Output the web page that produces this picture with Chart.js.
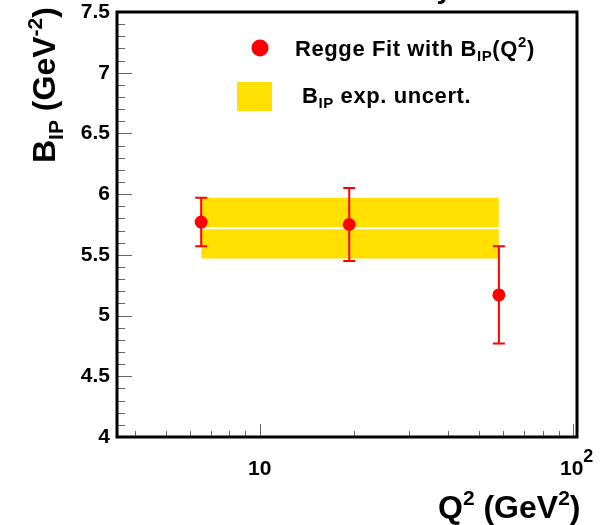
<!DOCTYPE html>
<html>
<head>
<meta charset="utf-8">
<script src="https://cdn.jsdelivr.net/npm/chart.js@4.4.0/dist/chart.umd.min.js"></script>
<style>
  html, body { margin: 0; padding: 0; background: #fff; }
  canvas { display: block; }
</style>
</head>
<body>
<canvas id="bChart" width="612" height="525"></canvas>
<script>
// measured points: Q^2, B_IP and its error
const q2 = [6.5, 19.3, 58];
const bIP = [5.77, 5.75, 5.17];
const bErr = [0.2, 0.3, 0.4];

// experimental uncertainty band on B_IP
const bandQ2 = [6.5, 58];
const bandLow = [5.47, 5.47];
const bandHigh = [5.97, 5.97];
const bandMid = [5.72, 5.72];

// axis ticks
const yMajor = [4, 4.5, 5, 5.5, 6, 6.5, 7, 7.5];
const yMinor = [];
for (let v = 40; v <= 75; v++) if (v % 5 !== 0) yMinor.push(v / 10);
const xMajor = [10, 100];
const xMinor = [4, 5, 6, 7, 8, 9, 20, 30, 40, 50, 60, 70, 80, 90];

const FONT = '"Liberation Sans", Arial, Helvetica, sans-serif';

function pts(xs, ys) {
  return xs.map((x, i) => ({ x: x, y: ys[i] }));
}

// draw text made of pieces [text, size, dy]
function drawRich(ctx, parts, x, y) {
  let cx = x;
  parts.forEach(([t, s, dy]) => {
    ctx.font = `bold ${s}px ${FONT}`;
    ctx.fillText(t, cx, y + dy);
    cx += ctx.measureText(t).width;
  });
}

const errorBars = {
  id: 'errorBars',
  afterDatasetsDraw(chart) {
    const ctx = chart.ctx;
    const xs = chart.scales.x, ys = chart.scales.y;
    ctx.save();
    ctx.strokeStyle = '#ff0000';
    ctx.lineWidth = 2;
    q2.forEach((q, i) => {
      const px = xs.getPixelForValue(q);
      const top = ys.getPixelForValue(bIP[i] + bErr[i]);
      const bot = ys.getPixelForValue(bIP[i] - bErr[i]);
      ctx.beginPath();
      ctx.moveTo(px, top); ctx.lineTo(px, bot);
      ctx.moveTo(px - 6, top); ctx.lineTo(px + 6, top);
      ctx.moveTo(px - 6, bot); ctx.lineTo(px + 6, bot);
      ctx.stroke();
    });
    ctx.restore();
  }
};

const decorations = {
  id: 'decorations',
  afterDraw(chart) {
    const ctx = chart.ctx;
    const a = chart.chartArea;
    const xs = chart.scales.x, ys = chart.scales.y;
    ctx.save();

    // tick marks inside the frame
    ctx.strokeStyle = '#666';
    ctx.lineWidth = 1;
    ctx.beginPath();
    yMajor.forEach(v => { const p = Math.round(ys.getPixelForValue(v)) + 0.5; ctx.moveTo(a.left, p); ctx.lineTo(a.left + 15, p); });
    yMinor.forEach(v => { const p = Math.round(ys.getPixelForValue(v)) + 0.5; ctx.moveTo(a.left, p); ctx.lineTo(a.left + 8, p); });
    xMajor.forEach(v => { const p = Math.round(xs.getPixelForValue(v)) + 0.5; ctx.moveTo(p, a.bottom); ctx.lineTo(p, a.bottom - 13); });
    xMinor.forEach(v => { const p = Math.round(xs.getPixelForValue(v)) + 0.5; ctx.moveTo(p, a.bottom); ctx.lineTo(p, a.bottom - 6); });
    ctx.stroke();

    // frame
    ctx.strokeStyle = '#000';
    ctx.lineWidth = 3;
    ctx.strokeRect(a.left, a.top, a.right - a.left, a.bottom - a.top);

    ctx.fillStyle = '#000';
    ctx.textBaseline = 'alphabetic';

    // x tick labels
    ctx.textAlign = 'center';
    ctx.font = `bold 21px ${FONT}`;
    ctx.fillText('10', xs.getPixelForValue(10), 475);
    ctx.textAlign = 'left';
    const p100 = xs.getPixelForValue(100);
    drawRich(ctx, [['10', 21, 0], ['2', 18, -13]], p100 - 13, 475);

    // axis titles
    drawRich(ctx, [['Q', 32, 0], ['2', 21, -13], [' (GeV', 32, 0], ['2', 21, -13], [')', 32, 0]], 438, 518);
    ctx.save();
    ctx.translate(55, 163);
    ctx.rotate(-Math.PI / 2);
    drawRich(ctx, [['B', 32, 0], ['IP', 21, 8], [' (GeV', 32, 0], ['-2', 21, -13], [')', 32, 0]], 0, 0);
    ctx.restore();

    // clipped title at the top
    ctx.textAlign = 'right';
    ctx.font = `bold 28px ${FONT}`;
    ctx.fillText('H1 Preliminary', 452, -2);
    ctx.textAlign = 'left';

    // legend
    ctx.fillStyle = '#ff0000';
    ctx.beginPath();
    ctx.arc(260, 48, 8.5, 0, Math.PI * 2);
    ctx.fill();
    ctx.fillStyle = '#ffe000';
    ctx.fillRect(237, 82, 35, 29);
    ctx.fillStyle = '#000';
    ctx.letterSpacing = '0.6px';
    drawRich(ctx, [['Regge Fit with B', 22, 0], ['IP', 15, 5], ['(Q', 22, 0], ['2', 15, -9], [')', 22, 0]], 295, 56);
    drawRich(ctx, [['B', 22, 0], ['IP', 15, 5], [' exp. uncert.', 22, 0]], 302, 103);
    ctx.letterSpacing = '0px';

    ctx.restore();
  }
};

const ctx = document.getElementById('bChart').getContext('2d');
new Chart(ctx, {
  type: 'scatter',
  data: {
    datasets: [
      {
        label: 'Regge Fit with B_IP(Q^2)',
        data: pts(q2, bIP),
        backgroundColor: '#ff0000',
        borderColor: '#ff0000',
        borderWidth: 0,
        pointRadius: 6.5,
        pointHoverRadius: 6.5,
        order: 0,
      },
      {
        label: 'band high',
        type: 'line',
        data: pts(bandQ2, bandHigh),
        borderWidth: 0,
        pointRadius: 0,
        backgroundColor: '#ffe000',
        fill: '+1',
        order: 3,
      },
      {
        label: 'band low',
        type: 'line',
        data: pts(bandQ2, bandLow),
        borderWidth: 0,
        pointRadius: 0,
        fill: false,
        order: 3,
      },
      {
        label: 'band center',
        type: 'line',
        data: pts(bandQ2, bandMid),
        borderColor: '#ffffff',
        borderWidth: 2,
        pointRadius: 0,
        fill: false,
        order: 2,
      },
    ],
  },
  options: {
    responsive: false,
    animation: false,
    layout: { padding: { top: 12, right: 35, left: 0, bottom: 0 } },
    plugins: {
      legend: { display: false },
      tooltip: { enabled: false },
    },
    scales: {
      x: {
        type: 'logarithmic',
        min: 3.5,
        max: 103,
        grid: { display: false, drawTicks: false },
        border: { display: false },
        ticks: { display: false },
        afterFit: (s) => { s.height = 88; s.paddingLeft = 0; s.paddingRight = 0; },
      },
      y: {
        min: 4,
        max: 7.5,
        grid: { display: false, drawTicks: false },
        border: { display: false },
        ticks: {
          stepSize: 0.5,
          padding: 7,
          color: '#000',
          font: { family: FONT, size: 21, weight: 'bold' },
          callback: (v) => String(v),
        },
        afterFit: (s) => { s.width = 117; s.paddingTop = 0; s.paddingBottom = 0; },
      },
    },
  },
  plugins: [errorBars, decorations],
});
</script>
</body>
</html>
